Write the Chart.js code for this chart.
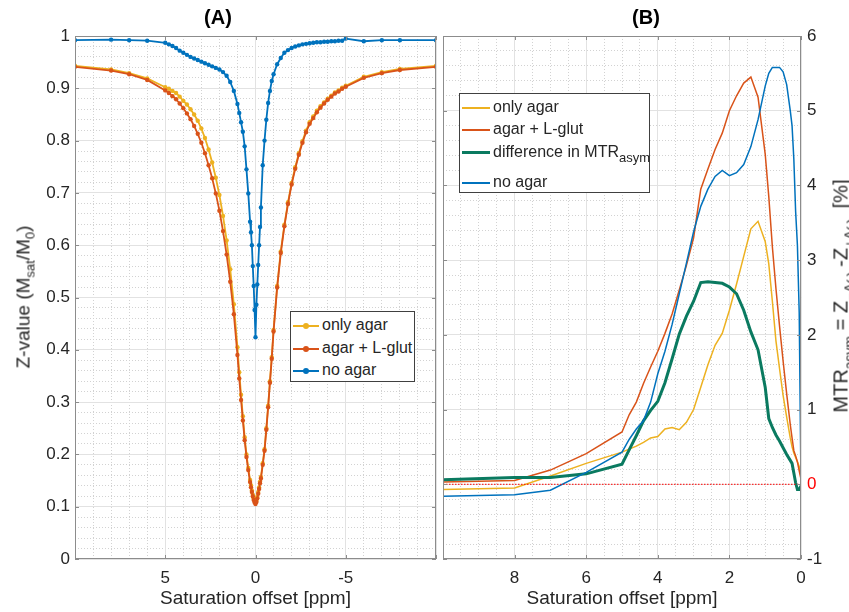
<!DOCTYPE html>
<html>
<head>
<meta charset="utf-8">
<script src="https://cdn.jsdelivr.net/npm/chart.js@4.4.0/dist/chart.umd.min.js"></script>
<style>
  html, body { margin: 0; padding: 0; background: #fff; }
  body { position: relative; width: 849px; height: 612px; overflow: hidden;
         font-family: 'Liberation Sans', Arial, Helvetica, sans-serif; color: #262626; }
  canvas { position: absolute; top: 0; }
  #cA { left: 0; }
  #cB { left: 440px; }
  .vlab { position: absolute; white-space: nowrap; font-size: 19px; line-height: 23px;
          transform: translate(-50%, -50%) rotate(-90deg); }
  .vlab sub, .leg sub { font-size: 13px; vertical-align: -5px; line-height: 0; }
  #ylabB { font-size: 20px; }
  #ylabB sub { font-size: 14px; vertical-align: -7px; }
  .leg { position: absolute; background: #fff; border: 1px solid #404040; font-size: 16px; box-sizing: border-box; }
  .leg .row { position: absolute; height: 20px; line-height: 20px; white-space: nowrap; }
  .leg .sw { display: inline-block; position: relative; vertical-align: middle; margin-right: 3px; }
  .leg .sw i { position: absolute; width: 6px; height: 6px; border-radius: 50%; left: calc(50% - 3px); top: calc(50% - 3px); }
</style>
</head>
<body>
<canvas id="cA" width="440" height="612"></canvas>
<canvas id="cB" width="409" height="612"></canvas>
<div class="vlab" style="left:23px; top:297px;">Z-value (M<sub>sat</sub>/M<sub>0</sub>)</div>
<div class="vlab" id="ylabB" style="left:841px; top:296px;">MTR<sub>asym</sub> = Z<sub>&minus;&Delta;&omega;</sub> -Z<sub>+&Delta;&omega;</sub>&nbsp;&nbsp;[%]</div>
<div class="leg" id="legA" style="left:290px; top:311px; width:125px; height:71px;"></div>
<div class="leg" id="legB" style="left:459px; top:93px; width:191px; height:100px;"></div>
<script>
Chart.defaults.font.family = "'Liberation Sans', Arial, Helvetica, sans-serif";
Chart.defaults.color = '#262626';
Chart.defaults.animation = false;

// saturation offsets [ppm], positive side (10 -> 0)
const offsets = [10, 8, 7, 6, 5, 4.8, 4.6, 4.4, 4.2, 4.0, 3.8, 3.6, 3.4, 3.2, 3.0, 2.8, 2.6, 2.4, 2.2, 2.0,
                 1.8, 1.6, 1.4, 1.2, 1.0, 0.9, 0.8, 0.7, 0.6, 0.5, 0.4, 0.3, 0.25, 0.2, 0.15, 0.1, 0.05, 0];
// negative side (-0.05 -> -10)
const negOffsets = offsets.slice(0, -1).reverse().map(v => -v);

// (A) Z-spectra, positive side in offsets order, negative side in negOffsets order
const zOnlyAgarPos = [0.943, 0.936, 0.929, 0.919, 0.902, 0.899, 0.895, 0.891, 0.884, 0.876,
                      0.869, 0.860, 0.850, 0.838, 0.823, 0.805, 0.783, 0.758, 0.729, 0.696,
                      0.656, 0.609, 0.554, 0.487, 0.405, 0.357, 0.314, 0.273, 0.233, 0.200,
                      0.174, 0.151, 0.141, 0.131, 0.123, 0.116, 0.111, 0.108];
const zOnlyAgarNeg = [0.112, 0.119, 0.128, 0.137, 0.148, 0.157, 0.183, 0.210, 0.250, 0.293,
                      0.340, 0.386, 0.438, 0.522, 0.588, 0.639, 0.682, 0.719, 0.749, 0.776,
                      0.799, 0.819, 0.835, 0.846, 0.857, 0.866, 0.873, 0.880, 0.886, 0.892,
                      0.896, 0.901, 0.905, 0.922, 0.931, 0.937, 0.943];
const zGlutPos = [0.941, 0.934, 0.927, 0.916, 0.896, 0.891, 0.885, 0.879, 0.871, 0.862,
                  0.852, 0.841, 0.828, 0.813, 0.796, 0.776, 0.753, 0.728, 0.699, 0.666,
                  0.627, 0.582, 0.530, 0.468, 0.390, 0.345, 0.304, 0.265, 0.227, 0.195,
                  0.170, 0.147, 0.137, 0.128, 0.120, 0.113, 0.108, 0.105];
const zGlutNeg = [0.109, 0.116, 0.125, 0.134, 0.145, 0.154, 0.180, 0.207, 0.247, 0.290,
                  0.337, 0.383, 0.435, 0.519, 0.585, 0.636, 0.679, 0.716, 0.746, 0.773,
                  0.796, 0.816, 0.832, 0.843, 0.854, 0.863, 0.871, 0.878, 0.884, 0.890,
                  0.894, 0.899, 0.903, 0.920, 0.929, 0.935, 0.941];
const zNoAgarPos = [0.992, 0.993, 0.992, 0.991, 0.987, 0.984, 0.981, 0.977, 0.972, 0.968,
                    0.964, 0.960, 0.957, 0.954, 0.951, 0.948, 0.945, 0.942, 0.939, 0.936,
                    0.931, 0.924, 0.912, 0.895, 0.870, 0.853, 0.835, 0.817, 0.789, 0.745,
                    0.699, 0.645, 0.625, 0.600, 0.560, 0.522, 0.476, 0.424];
const zNoAgarNeg = [0.486, 0.525, 0.562, 0.600, 0.635, 0.672, 0.753, 0.800, 0.840, 0.872,
                    0.895, 0.914, 0.927, 0.946, 0.958, 0.968, 0.973, 0.977, 0.980, 0.982,
                    0.984, 0.985, 0.986, 0.987, 0.988, 0.988, 0.989, 0.989, 0.990, 0.990,
                    0.991, 0.991, 0.995, 0.990, 0.992, 0.992, 0.992];

// (B) MTR asym [%], in offsets order
const mtrOnlyAgar = [-0.07, -0.05, 0.11, 0.28, 0.43, 0.47, 0.51, 0.56, 0.62, 0.64,
                     0.74, 0.76, 0.73, 0.83, 1.00, 1.30, 1.60, 1.86, 2.02, 2.33,
                     2.68, 3.05, 3.42, 3.52, 3.25, 2.95, 2.45, 1.92, 1.55, 1.19,
                     0.90, 0.62, 0.50, 0.42, 0.36, 0.30, 0.24, 0.10];
const mtrGlut = [0.03, 0.05, 0.19, 0.41, 0.70, 0.93, 1.10, 1.35, 1.57, 1.78,
                 2.02, 2.28, 2.60, 2.93, 3.30, 3.95, 4.22, 4.48, 4.70, 5.00,
                 5.20, 5.37, 5.45, 5.18, 4.42, 3.85, 3.18, 2.62, 2.12, 1.65,
                 1.21, 0.80, 0.62, 0.45, 0.38, 0.30, 0.18, 0.07];
const mtrDiff = [0.06, 0.09, 0.09, 0.14, 0.27, 0.46, 0.65, 0.85, 0.99, 1.11,
                 1.36, 1.68, 2.01, 2.25, 2.45, 2.70, 2.71, 2.70, 2.69, 2.64,
                 2.55, 2.33, 2.04, 1.80, 1.30, 0.88, 0.76, 0.66, 0.58, 0.49,
                 0.40, 0.32, 0.28, 0.15, 0.02, -0.07, -0.07, -0.02];
const mtrNoAgar = [-0.16, -0.14, -0.08, 0.16, 0.43, 0.60, 0.74, 0.85, 1.10, 1.48,
                   1.78, 2.14, 2.55, 2.96, 3.38, 3.72, 3.95, 4.12, 4.20, 4.13,
                   4.17, 4.28, 4.52, 4.88, 5.33, 5.50, 5.58, 5.58, 5.58, 5.52,
                   5.35, 5.00, 4.80, 4.35, 3.65, 3.20, 2.30, 0.00];
const zeroLineX = [10, 0];

const namesA = ['only agar', 'agar + L-glut', 'no agar'];
const namesB = ['only agar', 'agar + L-glut', 'difference in MTR<sub>asym</sub>', 'no agar'];

const cYellow = '#EDB120', cOrange = '#D95319', cBlue = '#0072BD', cGreen = '#0A7A60';
const gridMajor = '#e2e2e2', gridMinor = '#d2d2d2', frameColor = '#8c8c8c';

function pts(xs, ys) { return xs.map((x, i) => ({ x: x, y: ys[i] })); }
const zOffsets = offsets.concat(negOffsets);

// box around the plot with inward ticks, like the original axes
const framePlugin = {
  id: 'frame',
  afterDatasetsDraw(chart) {
    const { ctx, chartArea: a, scales } = chart;
    ctx.save();
    ctx.strokeStyle = frameColor;
    ctx.lineWidth = 1;
    ctx.strokeRect(a.left + 0.5, a.top + 0.5, a.right - a.left - 1, a.bottom - a.top - 1);
    ctx.beginPath();
    scales.x.ticks.forEach(t => {
      const p = Math.round(scales.x.getPixelForValue(t.value)) + 0.5;
      ctx.moveTo(p, a.bottom); ctx.lineTo(p, a.bottom - 4);
      ctx.moveTo(p, a.top); ctx.lineTo(p, a.top + 4);
    });
    scales.y.ticks.forEach(t => {
      const p = Math.round(scales.y.getPixelForValue(t.value)) + 0.5;
      ctx.moveTo(a.left, p); ctx.lineTo(a.left + 4, p);
      ctx.moveTo(a.right, p); ctx.lineTo(a.right - 4, p);
    });
    ctx.stroke();
    ctx.restore();
  }
};

// pin the axis sizes so the plot area sits where the original one does
function fixSize(prop, size) {
  return s => {
    s[prop] = size;
    s.paddingLeft = 0; s.paddingRight = 0; s.paddingTop = 0; s.paddingBottom = 0;
  };
}

function minorAxis(axis, min, max, step, reverse, position) {
  return {
    type: 'linear', axis: axis, position: position, min: min, max: max, reverse: !!reverse,
    ticks: { display: false, stepSize: step, maxTicksLimit: 1000 },
    grid: { color: gridMinor, drawTicks: false },
    border: { display: false, dash: [1, 2] },
    afterFit: fixSize(axis === 'x' ? 'height' : 'width', 0)
  };
}

const tickFont = { size: 17 };
const titleFont = { size: 19 };

new Chart(document.getElementById('cA'), {
  type: 'line',
  data: {
    datasets: [
      { label: namesA[0], data: pts(zOffsets, zOnlyAgarPos.concat(zOnlyAgarNeg)), borderColor: cYellow, backgroundColor: cYellow, order: 3 },
      { label: namesA[1], data: pts(zOffsets, zGlutPos.concat(zGlutNeg)), borderColor: cOrange, backgroundColor: cOrange, order: 2 },
      { label: namesA[2], data: pts(zOffsets, zNoAgarPos.concat(zNoAgarNeg)), borderColor: cBlue, backgroundColor: cBlue, order: 1 }
    ].map(d => Object.assign(d, { xAxisID: 'x', yAxisID: 'y', borderWidth: 1.8, pointRadius: 2.2, pointBorderWidth: 0, pointBackgroundColor: d.borderColor, tension: 0 }))
  },
  options: {
    responsive: false,
    devicePixelRatio: 1,
    layout: { padding: { left: 0, right: 4, top: 0, bottom: 0 } },
    plugins: {
      legend: { display: false },
      tooltip: { enabled: false },
      title: { display: true, text: '(A)', color: '#000', font: { size: 20, weight: 'bold' }, padding: { top: 6, bottom: 6 } }
    },
    scales: {
      xm: minorAxis('x', -10, 10, 1, true, 'bottom'),
      ym: minorAxis('y', 0, 1, 0.02, false, 'left'),
      x: {
        type: 'linear', position: 'bottom', reverse: true, min: -10, max: 10,
        ticks: { stepSize: 5, padding: 9, font: tickFont, callback: v => Math.abs(v) < 10 ? String(v) : '' },
        grid: { color: gridMajor, drawTicks: false },
        border: { display: false },
        title: { display: true, text: 'Saturation offset [ppm]', font: titleFont, padding: { top: 0, bottom: 2 } },
        afterFit: fixSize('height', 53)
      },
      y: {
        type: 'linear', position: 'left', min: 0, max: 1,
        ticks: { stepSize: 0.1, padding: 5, font: tickFont, callback: v => String(Math.round(v * 10) / 10) },
        grid: { color: gridMajor, drawTicks: false },
        border: { display: false },
        afterFit: fixSize('width', 75)
      }
    }
  },
  plugins: [framePlugin]
});

new Chart(document.getElementById('cB'), {
  type: 'line',
  data: {
    datasets: [
      { label: namesB[0], data: pts(offsets, mtrOnlyAgar), borderColor: cYellow, borderWidth: 1.5, order: 5 },
      { label: namesB[1], data: pts(offsets, mtrGlut), borderColor: cOrange, borderWidth: 1.5, order: 4 },
      { label: 'difference in MTR asym', data: pts(offsets, mtrDiff), borderColor: cGreen, borderWidth: 3, order: 3 },
      { label: namesB[3], data: pts(offsets, mtrNoAgar), borderColor: cBlue, borderWidth: 1.5, order: 2 },
      { label: 'zero', data: pts(zeroLineX, [0, 0]), borderColor: '#ff0000', borderWidth: 1, borderDash: [1.5, 1.5], order: 1 }
    ].map(d => Object.assign(d, { xAxisID: 'x', yAxisID: 'y', pointRadius: 0, tension: 0 }))
  },
  options: {
    responsive: false,
    devicePixelRatio: 1,
    layout: { padding: { left: 3, right: 0, top: 0, bottom: 0 } },
    plugins: {
      legend: { display: false },
      tooltip: { enabled: false },
      title: { display: true, text: '(B)', color: '#000', font: { size: 20, weight: 'bold' }, padding: { top: 6, bottom: 6 } }
    },
    scales: {
      xm: minorAxis('x', 0, 10, 0.5, true, 'bottom'),
      ym: minorAxis('y', -1, 6, 0.2, false, 'left'),
      x: {
        type: 'linear', position: 'bottom', reverse: true, min: 0, max: 10,
        ticks: { stepSize: 2, padding: 9, font: tickFont, callback: v => v < 10 ? String(v) : '' },
        grid: { color: gridMajor, drawTicks: false },
        border: { display: false },
        title: { display: true, text: 'Saturation offset [ppm]', font: titleFont, padding: { top: 0, bottom: 2 } },
        afterFit: fixSize('height', 53)
      },
      y: {
        type: 'linear', position: 'right', min: -1, max: 6,
        ticks: { stepSize: 1, padding: 6, font: tickFont, color: c => (c.tick && c.tick.value === 0) ? '#ff0000' : '#262626' },
        grid: { color: gridMajor, drawTicks: false },
        border: { display: false },
        afterFit: fixSize('width', 48)
      }
    }
  },
  plugins: [framePlugin]
});

// legends (HTML, so the subscript can be real text)
function buildLegend(el, names, colors, widths, opts) {
  names.forEach((name, i) => {
    const row = document.createElement('div');
    row.className = 'row';
    row.style.top = opts.tops[i] + 'px';
    row.style.left = opts.left + 'px';
    const sw = document.createElement('span');
    sw.className = 'sw';
    sw.style.width = opts.swatch + 'px';
    sw.style.height = widths[i] + 'px';
    sw.style.background = colors[i];
    if (opts.dot) {
      const dot = document.createElement('i');
      dot.style.background = colors[i];
      sw.appendChild(dot);
    }
    row.appendChild(sw);
    const txt = document.createElement('span');
    txt.innerHTML = name;
    row.appendChild(txt);
    el.appendChild(row);
  });
}
buildLegend(document.getElementById('legA'), namesA, [cYellow, cOrange, cBlue], [2, 2, 2],
  { tops: [3, 26, 48], left: 2, swatch: 26, dot: true });
buildLegend(document.getElementById('legB'), namesB, [cYellow, cOrange, cGreen, cBlue], [2, 2, 3, 2],
  { tops: [3, 25, 48, 78], left: 2, swatch: 28, dot: false });
</script>
</body>
</html>
